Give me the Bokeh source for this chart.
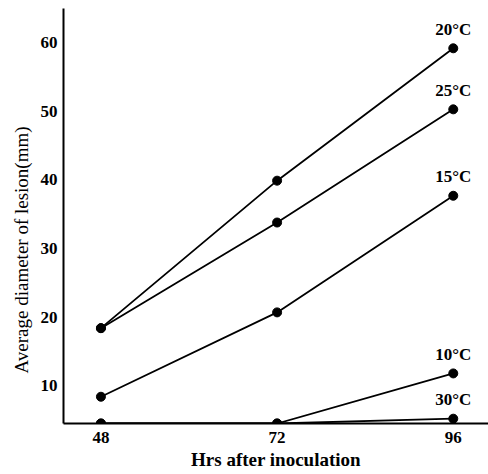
from bokeh.plotting import figure
from bokeh.models import Range1d, FixedTicker, ColumnDataSource, Title
from bokeh.core.properties import value
from bokeh.embed import file_html
from bokeh.resources import INLINE

hours = [48, 72, 96]
c20 = [18.4, 39.9, 59.2]
c25 = [18.4, 33.8, 50.3]
c15 = [8.4, 20.7, 37.7]
c10 = [4.5, 4.5, 11.8]
c30 = [4.5, 4.5, 5.2]
series_labels = ["20°C", "25°C", "15°C", "10°C", "30°C"]
series_values = [c20, c25, c15, c10, c30]
y_ticks = [10, 20, 30, 40, 50, 60]

FONT = "Liberation Serif"
W, H = 488, 474

p = figure(width=W, height=H, output_backend="svg", toolbar_location=None,
           x_range=Range1d(42.9, 100.8), y_range=Range1d(4.5, 65.0),
           min_border_left=63, min_border_right=0, min_border_top=8,
           min_border_bottom=51)
p.outline_line_color = None
p.grid.grid_line_color = None
p.background_fill_color = "white"
p.border_fill_color = "white"

for vals in series_values:
    p.line(hours, vals, line_color="black", line_width=1.8)
    p.scatter(hours, vals, size=9, fill_color="black", line_color="black")

src = ColumnDataSource(dict(x=[hours[-1]] * len(series_labels),
                            y=[v[-1] for v in series_values],
                            t=series_labels))
p.text(x="x", y="y", text="t", source=src, x_offset=0, y_offset=-19,
       text_align="center", text_baseline="middle",
       text_font=value(FONT), text_font_size="17px", text_font_style="bold",
       text_color="black")

for ax in (p.xaxis[0], p.yaxis[0]):
    ax.axis_line_width = 2
    ax.axis_line_color = "black"
    ax.major_tick_line_color = None
    ax.minor_tick_line_color = None
    ax.major_label_text_font = FONT
    ax.major_label_text_font_size = "17px"
    ax.major_label_text_font_style = "bold"
    ax.major_label_text_color = "black"

p.xaxis.ticker = FixedTicker(ticks=hours)
p.yaxis.ticker = FixedTicker(ticks=y_ticks)
p.xaxis.major_label_standoff = 2
p.yaxis.major_label_standoff = 0

xlab = Title(text="Hrs after inoculation", align="center", offset=0,
             standoff=3, text_font=FONT, text_font_size="19px",
             text_font_style="bold", text_color="black")
ylab = Title(text="Average diameter of lesion(mm)", align="left", offset=50,
             standoff=12, text_font=FONT, text_font_size="19px",
             text_font_style="normal", text_color="black")
p.add_layout(xlab, "below")
p.add_layout(ylab, "left")

open("out.html", "w").write(file_html(p, INLINE))
